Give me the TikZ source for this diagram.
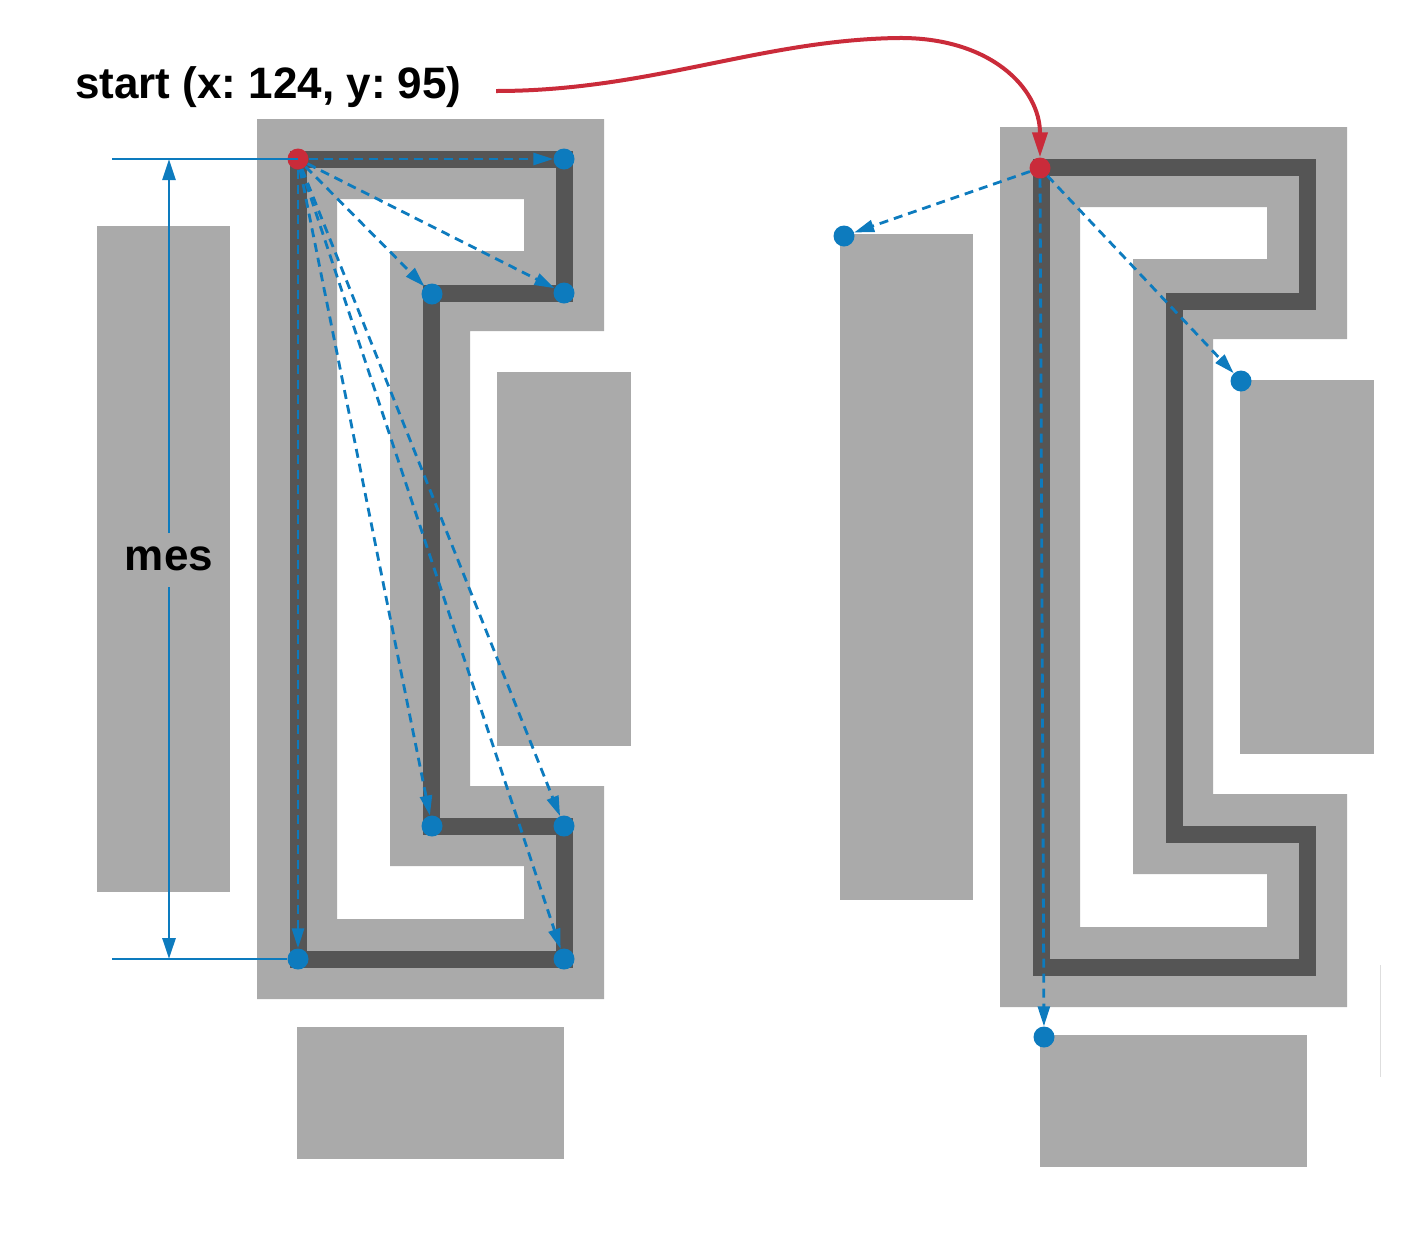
\documentclass[tikz,border=0pt]{standalone}
\usepackage{fontspec}
\setmainfont{Liberation Sans}
\usetikzlibrary{arrows.meta}
\frenchspacing
\definecolor{lgray}{HTML}{AAAAAA}
\definecolor{dgray}{HTML}{555555}
\definecolor{mblue}{HTML}{0D7BBE}
\definecolor{mred}{HTML}{CA2B3A}
\tikzset{
  block/.style={fill=lgray},
  wire/.style={draw=dgray,line width=17pt,line join=miter},
  bdot/.style={circle,fill=mblue,minimum size=21pt,inner sep=0pt},
  rdot/.style={circle,fill=mred,minimum size=21pt,inner sep=0pt},
  probe/.style={draw=mblue,line width=2.8pt,dash pattern=on 9pt off 6pt,-{Triangle[length=20pt,width=12pt]}},
  dimline/.style={draw=mblue,line width=2.8pt},
  dimarrow/.style={dimline,-{Triangle[length=21pt,width=13pt]}},
  jump/.style={draw=mred,line width=4pt,-{Triangle[length=25pt,width=15pt]}},
  lbl/.style={font=\fontsize{44}{50}\selectfont\bfseries,inner sep=0pt},
  struct/.pic={
    \fill[lgray,even odd rule] (257,119) -- (604,119) -- (604,331) -- (470,331) -- (470,786) -- (604,786) -- (604,999) -- (257,999) -- cycle
      (337,199) -- (524,199) -- (524,251) -- (390,251) -- (390,866) -- (524,866) -- (524,919) -- (337,919) -- cycle;
    \draw[wire] (298,159) -- (564,159) -- (564,293) -- (431,293) -- (431,826) -- (564,826) -- (564,959) -- (298,959) -- cycle;
    \fill[lgray] (97,226) rectangle (230,892);
    \fill[lgray] (497,372) rectangle (631,746);
    \fill[lgray] (297,1027) rectangle (564,1159);
  }
}
\begin{document}
\begin{tikzpicture}[x=1pt,y=-1pt]
\useasboundingbox (0,0) rectangle (1420,1240);
\pic at (0,0) {struct};
\pic at (743,8) {struct};
\draw[draw=black!13,line width=1pt] (1380,965) -- (1380,1077);

% left dots
\node[rdot] (L0) at (298,159) {};
\node[bdot] (L1) at (564,159) {};
\node[bdot] (L2) at (432,294) {};
\node[bdot] (L3) at (564,293) {};
\node[bdot] (L4) at (432,826) {};
\node[bdot] (L5) at (564,826) {};
\node[bdot] (L6) at (564,959) {};
\node[bdot] (L7) at (298,959) {};
% right dots
\node[rdot] (R0) at (1040,168) {};
\node[bdot] (R1) at (844,236) {};
\node[bdot] (R2) at (1241,381) {};
\node[bdot] (R3) at (1044,1037) {};

\foreach \t in {L1,L2,L3,L4,L5,L6,L7} \draw[probe] (L0) -- (\t);
\foreach \t in {R1,R2,R3} \draw[probe] (R0) -- (\t);

% measurement
\coordinate (mt) at (112,159);
\coordinate (mb) at (112,959);
\coordinate (at) at (169,159);
\coordinate (ab) at (169,959);
\coordinate (g1) at (169,533);
\coordinate (g2) at (169,587);
\draw[dimline] (mt) -- (L0.center);
\draw[dimline] (mb) -- (L7.west);
\draw[dimarrow] (g1) -- (at);
\draw[dimarrow] (g2) -- (ab);
\node[lbl,anchor=base] (mes) at (169,570) {mes};

% start label and jump
\node[lbl,anchor=base west] (start) at (75,98) {start (x: 124, y: 95)};
\coordinate (cs) at (496,91);
\draw[jump] (cs) .. controls (650,91) and (760,40) .. (898,38) .. controls (990,37) and (1040,88) .. (R0.north);
\end{tikzpicture}
\end{document}
